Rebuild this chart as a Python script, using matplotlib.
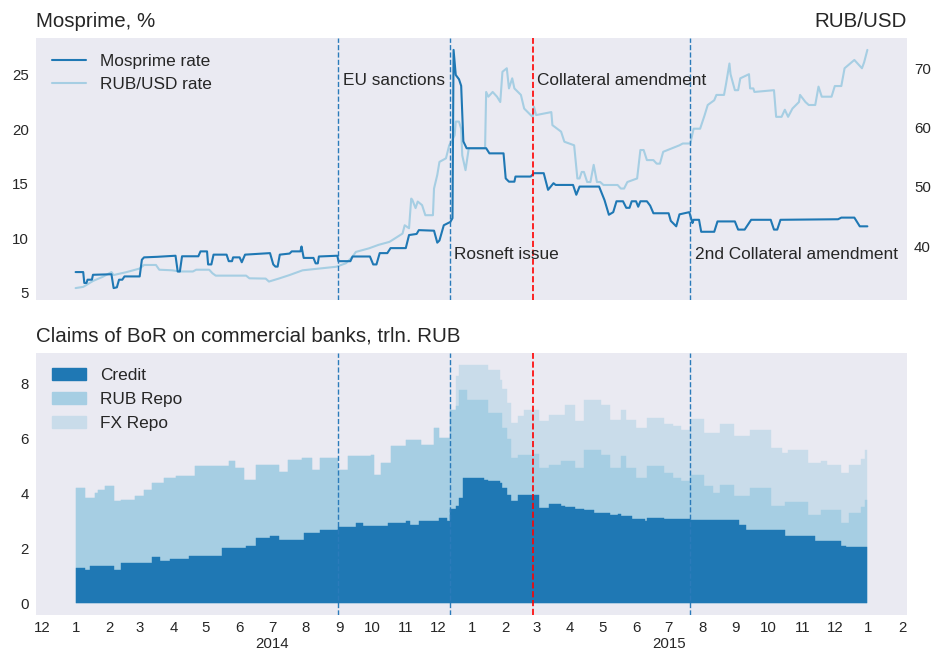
import matplotlib
matplotlib.use("Agg")
import matplotlib.pyplot as plt
import pandas as pd
from matplotlib.patches import Patch

# ---------------- data ----------------
mos_dates = [
    "2014-01-01", "2014-01-08", "2014-01-09", "2014-01-11", "2014-01-12", "2014-01-16", "2014-01-17",
    "2014-02-03", "2014-02-05", "2014-02-08", "2014-02-10", "2014-02-13", "2014-02-15", "2014-03-01",
    "2014-03-03", "2014-03-05", "2014-03-17", "2014-04-03", "2014-04-05", "2014-04-07", "2014-04-09",
    "2014-04-24", "2014-04-26", "2014-05-02", "2014-05-03", "2014-05-06", "2014-05-08", "2014-05-20",
    "2014-05-22", "2014-05-25", "2014-05-26", "2014-06-01", "2014-06-03", "2014-06-06", "2014-06-29",
    "2014-07-02", "2014-07-04", "2014-07-06", "2014-07-08", "2014-07-17", "2014-07-19", "2014-07-27",
    "2014-07-28", "2014-07-30", "2014-08-08", "2014-08-10", "2014-08-12", "2014-08-13", "2014-08-30",
    "2014-08-31", "2014-09-11", "2014-09-13", "2014-09-29", "2014-10-02", "2014-10-05", "2014-10-08",
    "2014-10-15", "2014-10-18", "2014-11-01", "2014-11-04", "2014-11-11", "2014-11-13", "2014-11-27",
    "2014-11-30", "2014-12-02", "2014-12-06", "2014-12-12", "2014-12-14", "2014-12-15", "2014-12-17",
    "2014-12-20", "2014-12-22", "2014-12-24", "2014-12-27", "2015-01-14", "2015-01-17", "2015-01-30",
    "2015-02-01", "2015-02-04", "2015-02-09", "2015-02-10", "2015-02-24", "2015-02-27", "2015-03-08",
    "2015-03-12", "2015-03-17", "2015-03-19", "2015-04-04", "2015-04-07", "2015-04-10", "2015-04-28",
    "2015-05-03", "2015-05-07", "2015-05-11", "2015-05-14", "2015-05-20", "2015-05-23", "2015-05-26",
    "2015-05-28", "2015-06-01", "2015-06-03", "2015-06-05", "2015-06-11", "2015-06-14", "2015-06-17",
    "2015-07-01", "2015-07-03", "2015-07-08", "2015-07-11", "2015-07-20", "2015-07-23", "2015-07-24",
    "2015-07-29", "2015-07-31", "2015-08-12", "2015-08-15", "2015-08-31", "2015-09-03", "2015-09-09",
    "2015-09-15", "2015-10-03", "2015-10-06", "2015-10-09", "2015-10-12", "2015-12-04", "2015-12-07",
    "2015-12-19", "2015-12-24", "2015-12-31",
]
mos_values = [
    6.9, 6.9, 5.9, 5.9, 6.2, 6.2, 6.65,
    6.7, 5.43, 5.5, 6.2, 6.2, 6.5, 6.5,
    8.03, 8.25, 8.3, 8.4, 6.95, 6.95, 8.35,
    8.35, 8.8, 8.8, 7.6, 7.6, 8.5, 8.5,
    7.9, 7.9, 8.25, 8.25, 7.8, 8.5, 8.64,
    7.6, 7.4, 7.4, 8.5, 8.6, 8.8, 8.8,
    9.25, 8.2, 8.2, 7.7, 7.7, 8.33, 8.4,
    7.9, 7.9, 8.33, 8.33, 7.6, 7.6, 8.64,
    8.64, 9.1, 9.1, 10.3, 10.4, 10.75, 10.7,
    9.6, 9.8, 11.2, 11.5, 11.85, 27.3, 25.0,
    24.6, 24.0, 18.9, 18.27, 18.27, 17.8, 17.8,
    15.5, 15.2, 15.2, 15.67, 15.67, 15.98, 15.98,
    14.45, 15.06, 14.9, 14.9, 14.0, 14.75, 14.75,
    13.5, 12.16, 12.4, 13.4, 13.4, 12.8, 12.8,
    13.4, 13.4, 12.9, 13.4, 13.4, 13.0, 12.3,
    12.3, 11.6, 11.1, 12.2, 12.4, 11.4, 11.7,
    11.7, 10.6, 10.6, 11.55, 11.55, 10.8, 10.8,
    11.7, 11.7, 10.8, 10.8, 11.7, 11.75, 11.9,
    11.9, 11.1, 11.1,
]

rub_dates = [
    "2014-01-01", "2014-01-08", "2014-01-17", "2014-01-26", "2014-02-03", "2014-02-05", "2014-02-17",
    "2014-03-01", "2014-03-05", "2014-03-16", "2014-03-19", "2014-03-31", "2014-04-07", "2014-04-19",
    "2014-04-22", "2014-05-04", "2014-05-07", "2014-05-10", "2014-06-07", "2014-06-10", "2014-06-25",
    "2014-06-28", "2014-07-07", "2014-07-17", "2014-07-29", "2014-08-29", "2014-09-07", "2014-09-13",
    "2014-09-16", "2014-09-28", "2014-10-07", "2014-10-17", "2014-10-29", "2014-10-31", "2014-11-04",
    "2014-11-06", "2014-11-07", "2014-11-10", "2014-11-12", "2014-11-16", "2014-11-19", "2014-11-26",
    "2014-11-27", "2014-11-30", "2014-12-02", "2014-12-08", "2014-12-11", "2014-12-13", "2014-12-16",
    "2014-12-17", "2014-12-20", "2014-12-22", "2014-12-23", "2014-12-26", "2014-12-29", "2015-01-13",
    "2015-01-14", "2015-01-16", "2015-01-20", "2015-01-24", "2015-01-27", "2015-01-29", "2015-02-02",
    "2015-02-04", "2015-02-07", "2015-02-09", "2015-02-15", "2015-02-18", "2015-02-24", "2015-02-26",
    "2015-02-27", "2015-03-01", "2015-03-15", "2015-03-16", "2015-03-24", "2015-03-27", "2015-04-05",
    "2015-04-08", "2015-04-10", "2015-04-12", "2015-04-14", "2015-04-17", "2015-04-20", "2015-04-23",
    "2015-04-26", "2015-04-29", "2015-05-02", "2015-05-15", "2015-05-18", "2015-05-21", "2015-05-24",
    "2015-06-02", "2015-06-05", "2015-06-08", "2015-06-11", "2015-06-17", "2015-06-20", "2015-06-23",
    "2015-06-26", "2015-07-11", "2015-07-14", "2015-07-21", "2015-07-24", "2015-07-30", "2015-08-03",
    "2015-08-06", "2015-08-12", "2015-08-14", "2015-08-21", "2015-08-23", "2015-08-26", "2015-08-27",
    "2015-08-31", "2015-09-03", "2015-09-05", "2015-09-13", "2015-09-14", "2015-09-17", "2015-09-18",
    "2015-10-06", "2015-10-08", "2015-10-13", "2015-10-16", "2015-10-19", "2015-10-23", "2015-10-29",
    "2015-10-30", "2015-11-04", "2015-11-07", "2015-11-13", "2015-11-16", "2015-11-19", "2015-11-28",
    "2015-12-01", "2015-12-07", "2015-12-10", "2015-12-19", "2015-12-21", "2015-12-26", "2015-12-28",
    "2015-12-31",
]
rub_values = [
    32.9, 33.1, 34.1, 34.8, 35.6, 35.1, 35.6,
    36.2, 36.8, 36.8, 36.0, 35.9, 35.7, 35.7,
    36.0, 36.0, 35.4, 35.0, 35.0, 34.55, 34.5,
    34.0, 34.5, 35.1, 35.9, 36.5, 37.1, 38.2,
    39.0, 39.6, 40.2, 40.7, 42.1, 43.5, 43.0,
    48.0, 47.8, 46.4, 47.5, 46.9, 45.2, 45.2,
    49.7, 52.0, 54.2, 54.8, 57.0, 57.6, 58.7,
    61.0, 61.0, 59.8, 55.3, 52.8, 56.5, 56.5,
    66.0, 65.2, 66.0, 65.2, 64.3, 69.4, 70.0,
    66.6, 68.3, 66.6, 65.5, 63.2, 62.1, 61.8,
    63.5, 62.1, 62.6, 60.4, 59.3, 57.6, 57.0,
    51.4, 51.4, 52.5, 52.5, 50.8, 50.8, 53.7,
    50.8, 50.8, 50.3, 50.3, 49.7, 49.7, 50.8,
    51.4, 56.2, 56.2, 54.5, 54.5, 53.9, 53.9,
    55.9, 57.0, 57.3, 57.3, 59.8, 59.8, 62.0,
    63.8, 64.6, 65.5, 65.5, 67.5, 70.8, 69.0,
    66.3, 66.3, 68.3, 69.0, 66.6, 66.6, 66.0,
    66.3, 61.8, 61.8, 63.0, 61.8, 63.2, 64.3,
    65.5, 64.3, 63.8, 63.8, 66.9, 65.2, 65.2,
    67.0, 67.0, 70.0, 71.4, 71.0, 70.0, 71.0,
    73.1,
]

claims_dates = [
    "2014-01-01", "2014-01-10", "2014-01-14", "2014-01-19", "2014-01-22", "2014-01-28", "2014-02-05",
    "2014-02-12", "2014-02-25", "2014-03-05", "2014-03-12", "2014-03-20", "2014-03-23", "2014-03-29",
    "2014-04-03", "2014-04-15", "2014-04-21", "2014-05-06", "2014-05-16", "2014-05-22", "2014-05-28",
    "2014-06-05", "2014-06-07", "2014-06-16", "2014-06-29", "2014-07-07", "2014-07-16", "2014-07-28",
    "2014-07-30", "2014-08-07", "2014-08-14", "2014-08-31", "2014-09-09", "2014-09-16", "2014-09-23",
    "2014-09-30", "2014-10-03", "2014-10-09", "2014-10-16", "2014-10-18", "2014-11-01", "2014-11-05",
    "2014-11-13", "2014-11-15", "2014-11-27", "2014-12-02", "2014-12-09", "2014-12-12", "2014-12-17",
    "2014-12-20", "2014-12-24", "2014-12-27", "2015-01-12", "2015-01-16", "2015-01-27", "2015-01-29",
    "2015-02-02", "2015-02-06", "2015-02-12", "2015-02-18", "2015-02-27", "2015-03-04", "2015-03-13",
    "2015-03-24", "2015-03-28", "2015-04-06", "2015-04-14", "2015-04-23", "2015-04-30", "2015-05-03",
    "2015-05-08", "2015-05-15", "2015-05-18", "2015-05-23", "2015-05-28", "2015-06-01", "2015-06-09",
    "2015-06-11", "2015-06-27", "2015-07-05", "2015-07-12", "2015-07-21", "2015-08-03", "2015-08-11",
    "2015-08-17", "2015-08-30", "2015-09-04", "2015-09-10", "2015-09-14", "2015-10-03", "2015-10-13",
    "2015-10-16", "2015-10-19", "2015-11-06", "2015-11-13", "2015-11-18", "2015-11-24", "2015-12-07",
    "2015-12-11", "2015-12-14", "2015-12-25", "2015-12-29", "2015-12-31",
]
credit = [
    1.28, 1.19, 1.36, 1.36, 1.36, 1.36, 1.22,
    1.48, 1.48, 1.48, 1.68, 1.55, 1.55, 1.60,
    1.60, 1.70, 1.70, 1.70, 2.00, 2.00, 2.00,
    2.00, 2.07, 2.37, 2.43, 2.31, 2.31, 2.31,
    2.55, 2.55, 2.68, 2.77, 2.77, 2.92, 2.82,
    2.82, 2.82, 2.82, 2.93, 2.93, 3.00, 2.86,
    2.98, 2.98, 2.98, 3.10, 3.00, 3.45, 3.55,
    3.83, 4.56, 4.56, 4.50, 4.44, 4.38, 4.20,
    3.95, 3.71, 3.93, 3.93, 3.93, 3.47, 3.61,
    3.55, 3.52, 3.45, 3.40, 3.28, 3.28, 3.30,
    3.22, 3.25, 3.16, 3.16, 3.08, 3.08, 2.98,
    3.10, 3.08, 3.06, 3.05, 3.03, 3.02, 3.02,
    3.02, 3.02, 2.86, 2.68, 2.68, 2.68, 2.68,
    2.43, 2.43, 2.43, 2.25, 2.25, 2.25, 2.07,
    2.04, 2.04, 2.04, 2.04, 2.04,
]
rub_repo = [
    2.92, 2.64, 2.47, 2.65, 2.77, 2.90, 2.49,
    2.29, 2.41, 2.65, 2.70, 2.83, 3.01, 2.96,
    3.02, 2.92, 3.29, 3.31, 3.01, 3.19, 2.93,
    2.50, 2.43, 2.68, 2.62, 2.49, 2.92, 2.98,
    2.74, 2.31, 2.61, 2.09, 2.58, 2.43, 2.53,
    2.59, 1.86, 2.28, 2.17, 2.79, 2.96, 3.10,
    2.98, 2.80, 3.41, 2.92, 3.02, 3.60, 3.65,
    3.95, 3.22, 2.86, 2.92, 2.49, 2.55, 2.20,
    2.05, 1.58, 1.48, 1.48, 1.52, 1.46, 1.44,
    1.62, 1.65, 1.48, 2.20, 2.32, 2.13, 2.11,
    1.71, 1.68, 2.19, 1.77, 1.85, 1.48, 1.58,
    1.89, 1.67, 1.49, 1.39, 1.65, 1.24, 0.98,
    1.28, 0.88, 1.04, 1.22, 1.52, 0.85, 0.85,
    1.27, 1.27, 0.79, 0.97, 1.15, 1.15, 0.85,
    0.88, 1.26, 1.46, 1.73, 1.73,
]
fx_repo = [
    0, 0, 0, 0, 0, 0, 0,
    0, 0, 0, 0, 0, 0, 0,
    0, 0, 0, 0, 0, 0, 0,
    0, 0, 0, 0, 0, 0, 0,
    0, 0, 0, 0, 0, 0, 0,
    0, 0, 0, 0, 0, 0, 0,
    0, 0, 0, 0, 0, 0, 1.10,
    0.92, 0.92, 1.28, 1.28, 1.58, 1.22, 1.40,
    1.30, 1.28, 1.40, 1.64, 1.60, 1.70, 1.82,
    1.70, 2.06, 1.70, 1.82, 1.82, 1.82, 1.82,
    1.76, 1.76, 1.70, 1.76, 1.76, 1.83, 1.83,
    1.76, 1.80, 1.90, 1.88, 2.02, 1.94, 2.20,
    2.25, 2.20, 2.20, 2.20, 2.12, 2.13, 1.94,
    1.77, 1.90, 1.88, 1.88, 1.80, 1.65, 1.82,
    1.82, 1.75, 1.75, 1.83, 1.83,
]

events = ["EU sanctions", "Rosneft issue", "Collateral amendment", "2nd Collateral amendment"]
event_dates = ["2014-08-31", "2014-12-12", "2015-02-26", "2015-07-21"]
event_colors = ["#2b7bba", "#2b7bba", "#ff0000", "#2b7bba"]
event_label_y = [24.5, 8.5, 24.5, 8.5]

month_ticks = pd.date_range("2013-12-01", "2016-02-01", freq="MS")
month_labels = [str(d.month) + ("\n%d" % d.year if d.month == 7 else "") for d in month_ticks]

# ---------------- style ----------------
plt.style.use("seaborn-v0_8-dark")
plt.rcParams["font.family"] = ["Liberation Sans", "DejaVu Sans"]
TXT = "#262626"
BG = "#EAEAF2"

fig = plt.figure(figsize=(9.33, 6.56), dpi=100)
ax1 = fig.add_axes([0.0386, 0.5427, 0.9335, 0.3994])
ax3 = fig.add_axes([0.0386, 0.0625, 0.9335, 0.3998], sharex=ax1)
ax2 = ax1.twinx()

md = pd.to_datetime(mos_dates)
rd = pd.to_datetime(rub_dates)
cd = pd.to_datetime(claims_dates)

l_rub, = ax2.plot(rd, rub_values, color="#a6cee3", lw=1.5, label="RUB/USD rate")
l_mos, = ax1.plot(md, mos_values, color="#1f78b4", lw=1.5, label="Mosprime rate")
ax1.set_zorder(ax2.get_zorder() + 1)
ax1.patch.set_visible(False)
ax2.patch.set_visible(True)
ax2.patch.set_facecolor(BG)

for name, d, col, yy in zip(events, event_dates, event_colors, event_label_y):
    dt = pd.Timestamp(d)
    lw = 1.2 if col == "#ff0000" else 1.0
    ax1.axvline(dt, color=col, ls="--", lw=lw)
    ax3.axvline(dt, color=col, ls="--", lw=lw, zorder=5)
    ax1.annotate(name, xy=(dt, yy), xytext=(3, 0), textcoords="offset points",
                 ha="left", va="center", fontsize=12.4, color=TXT)

ax1.legend(handles=[l_mos, l_rub], loc="upper left", frameon=False, fontsize=12.4)
ax1.set_title("Mosprime, %", loc="left", fontsize=14.8, color=TXT, pad=8.2)
ax2.set_title("RUB/USD", loc="right", fontsize=14.8, color=TXT, pad=8.2)

# stacked claims: each layer filled from zero to its cumulative top, top layer first
c0 = pd.Series(credit)
c1 = c0 + pd.Series(rub_repo)
c2 = c1 + pd.Series(fx_repo)
layer_colors = ["#1f78b4", "#a6cee3", "#c9dcea"]
layer_names = ["Credit", "RUB Repo", "FX Repo"]
for top, col in zip([c2, c1, c0], layer_colors[::-1]):
    ax3.fill_between(cd, 0, top, step="post", facecolor=col, edgecolor=col, lw=0.3)
handles = [Patch(color=c, label=n) for c, n in zip(layer_colors, layer_names)]
ax3.legend(handles=handles, loc="upper left", frameon=False, fontsize=12.4)
ax3.set_title("Claims of BoR on commercial banks, trln. RUB", loc="left",
              fontsize=14.8, color=TXT, pad=8.2)

ax1.set_yticks([5, 10, 15, 20, 25])
ax2.set_yticks([40, 50, 60, 70])
ax3.set_yticks([0, 2, 4, 6, 8])
ax3.set_xticks(month_ticks, month_labels)

for a in (ax1, ax2, ax3):
    a.tick_params(axis="y", labelsize=10.8, pad=5, length=0, colors=TXT)
    a.tick_params(axis="x", labelsize=10.8, pad=4.5, length=0, colors=TXT)
ax1.tick_params(labelbottom=False)
ax2.tick_params(labelbottom=False)

fig.savefig("out.png", dpi=100)
